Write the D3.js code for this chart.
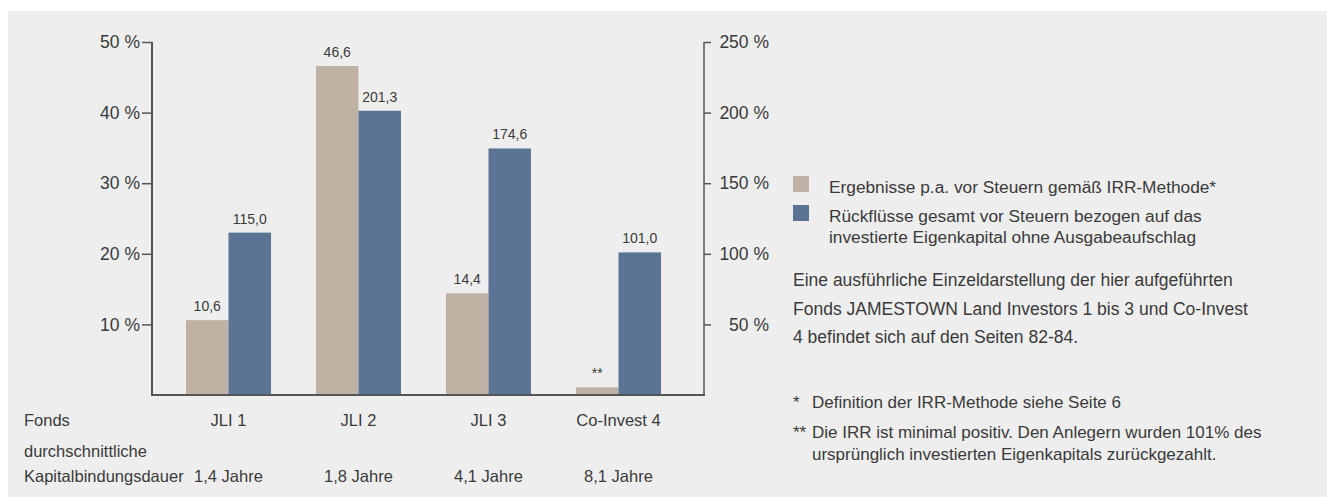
<!DOCTYPE html>
<html>
<head>
<meta charset="utf-8">
<script src="https://cdn.jsdelivr.net/npm/d3@7"></script>
<style>
  body { margin: 0; background: #fff; }
  svg text { font-family: "Liberation Sans", Arial, sans-serif; fill: #3a3a3a; }
</style>
</head>
<body>
<svg id="chart"></svg>
<script>
// chart data
var funds = ["JLI 1", "JLI 2", "JLI 3", "Co-Invest 4"];
var durations = ["1,4 Jahre", "1,8 Jahre", "4,1 Jahre", "8,1 Jahre"];
var irr = [10.6, 46.6, 14.4, 1.1];           // left axis, %
var irrLabels = ["10,6", "46,6", "14,4", "**"];
var returns = [115.0, 201.3, 174.6, 101.0];  // right axis, %
var returnLabels = ["115,0", "201,3", "174,6", "101,0"];
var leftTicks = [10, 20, 30, 40, 50];
var rightTicks = [50, 100, 150, 200, 250];

var legendItems = [
  ["Ergebnisse p.a. vor Steuern gemäß IRR-Methode*"],
  ["Rückflüsse gesamt vor Steuern bezogen auf das", "investierte Eigenkapital ohne Ausgabeaufschlag"]
];
var noteLines = [
  "Eine ausführliche Einzeldarstellung der hier aufgeführten",
  "Fonds JAMESTOWN Land Investors 1 bis 3 und Co-Invest",
  "4 befindet sich auf den Seiten 82-84."
];
var footnotes = [
  ["*", ["Definition der IRR-Methode siehe Seite 6"]],
  ["**", ["Die IRR ist minimal positiv. Den Anlegern wurden 101% des",
          "ursprünglich investierten Eigenkapitals zurückgezahlt."]]
];

var width = 1327, height = 497;
var tan = "#bfb1a4", blue = "#5b7493", axisColor = "#555";

var svg = d3.select("#chart")
    .attr("width", width)
    .attr("height", height);

// grey panel
svg.append("rect")
    .attr("x", 8).attr("y", 11)
    .attr("width", width - 8).attr("height", height - 11)
    .attr("fill", "#eeeeee");

var axisLeftX = 152, axisRightX = 704;
var yTop = 42, yBase = 395;

var yLeft = d3.scaleLinear().domain([0, 50]).range([yBase, yTop]);
var yRight = d3.scaleLinear().domain([0, 250]).range([yBase, yTop]);

var x = d3.scaleBand()
    .domain(funds)
    .range([147, 700])
    .paddingInner(0.346)
    .paddingOuter(0.3);
var half = x.bandwidth() / 2;

// bars
var groups = svg.selectAll(".fund")
    .data(funds)
  .enter().append("g")
    .attr("class", "fund")
    .attr("transform", d => "translate(" + x(d) + ",0)");

groups.append("rect")
    .attr("x", 0)
    .attr("width", half)
    .attr("y", (d, i) => yLeft(irr[i]))
    .attr("height", (d, i) => yBase - yLeft(irr[i]))
    .attr("fill", tan);

groups.append("rect")
    .attr("x", half)
    .attr("width", half)
    .attr("y", (d, i) => yRight(returns[i]))
    .attr("height", (d, i) => yBase - yRight(returns[i]))
    .attr("fill", blue);

groups.append("text")
    .attr("x", half / 2)
    .attr("y", (d, i) => yLeft(irr[i]) - 9)
    .attr("text-anchor", "middle")
    .attr("font-size", 14)
    .attr("fill", "#555")
    .text((d, i) => irrLabels[i]);

groups.append("text")
    .attr("x", half * 1.5)
    .attr("y", (d, i) => yRight(returns[i]) - 9)
    .attr("text-anchor", "middle")
    .attr("font-size", 14)
    .attr("fill", "#555")
    .text((d, i) => returnLabels[i]);

// axes
var leftAxis = svg.append("g")
    .attr("transform", "translate(" + axisLeftX + ",0)")
    .call(d3.axisLeft(yLeft).tickValues(leftTicks).tickSize(10).tickSizeOuter(0)
      .tickFormat(d => d + " %"));

var rightAxis = svg.append("g")
    .attr("transform", "translate(" + axisRightX + ",0)")
    .call(d3.axisRight(yRight).tickValues(rightTicks).tickSize(7).tickSizeOuter(0)
      .tickFormat(d => d + " %"));

[leftAxis, rightAxis].forEach(function(a) {
  a.select(".domain").remove();
  a.selectAll("line").attr("stroke", axisColor).attr("stroke-width", 1.5);
  a.selectAll("text")
    .attr("font-size", 17.5)
    .attr("fill", "#3a3a3a")
    .attr("font-family", null);
});
leftAxis.selectAll("text").attr("x", -12);
rightAxis.selectAll("text").attr("x", 65).attr("text-anchor", "end");

svg.append("line")
    .attr("x1", axisLeftX).attr("x2", axisLeftX)
    .attr("y1", yTop).attr("y2", yBase)
    .attr("stroke", axisColor).attr("stroke-width", 2);
svg.append("line")
    .attr("x1", axisRightX).attr("x2", axisRightX)
    .attr("y1", yTop).attr("y2", yBase)
    .attr("stroke", axisColor).attr("stroke-width", 1.5);
svg.append("line")
    .attr("x1", axisLeftX - 1).attr("x2", axisRightX + 1)
    .attr("y1", yBase).attr("y2", yBase)
    .attr("stroke", axisColor).attr("stroke-width", 2);

// category rows
var rowFont = 16.5;
svg.append("text").attr("x", 24).attr("y", 426).attr("font-size", rowFont).text("Fonds");
svg.append("text").attr("x", 24).attr("y", 457).attr("font-size", rowFont).text("durchschnittliche");
svg.append("text").attr("x", 24).attr("y", 482).attr("font-size", rowFont).text("Kapitalbindungsdauer");

svg.selectAll(".fund-name")
    .data(funds)
  .enter().append("text")
    .attr("class", "fund-name")
    .attr("x", d => x(d) + half)
    .attr("y", 426)
    .attr("text-anchor", "middle")
    .attr("font-size", rowFont)
    .text(d => d);

svg.selectAll(".duration")
    .data(durations)
  .enter().append("text")
    .attr("class", "duration")
    .attr("x", (d, i) => x(funds[i]) + half)
    .attr("y", 482)
    .attr("text-anchor", "middle")
    .attr("font-size", rowFont)
    .text(d => d);

// legend
var legend = svg.append("g").attr("transform", "translate(793,0)");
var legendY = [176, 205];
legendItems.forEach(function(lines, i) {
  legend.append("rect")
      .attr("x", 0).attr("y", legendY[i])
      .attr("width", 16).attr("height", 16)
      .attr("fill", i === 0 ? tan : blue);
  lines.forEach(function(t, j) {
    legend.append("text")
        .attr("x", 36)
        .attr("y", legendY[i] + 17 + j * 20.5)
        .attr("font-size", 17.3)
        .attr("fill", "#444")
        .text(t);
  });
});

noteLines.forEach(function(t, i) {
  legend.append("text")
      .attr("x", 0)
      .attr("y", 286 + i * 28.5)
      .attr("font-size", 17.5)
      .text(t);
});

var fnY = [408, 438];
footnotes.forEach(function(f, i) {
  legend.append("text")
      .attr("x", 0).attr("y", fnY[i])
      .attr("font-size", 17)
      .text(f[0]);
  f[1].forEach(function(t, j) {
    legend.append("text")
        .attr("x", 19)
        .attr("y", fnY[i] + j * 22)
        .attr("font-size", 17)
        .text(t);
  });
});
</script>
</body>
</html>
